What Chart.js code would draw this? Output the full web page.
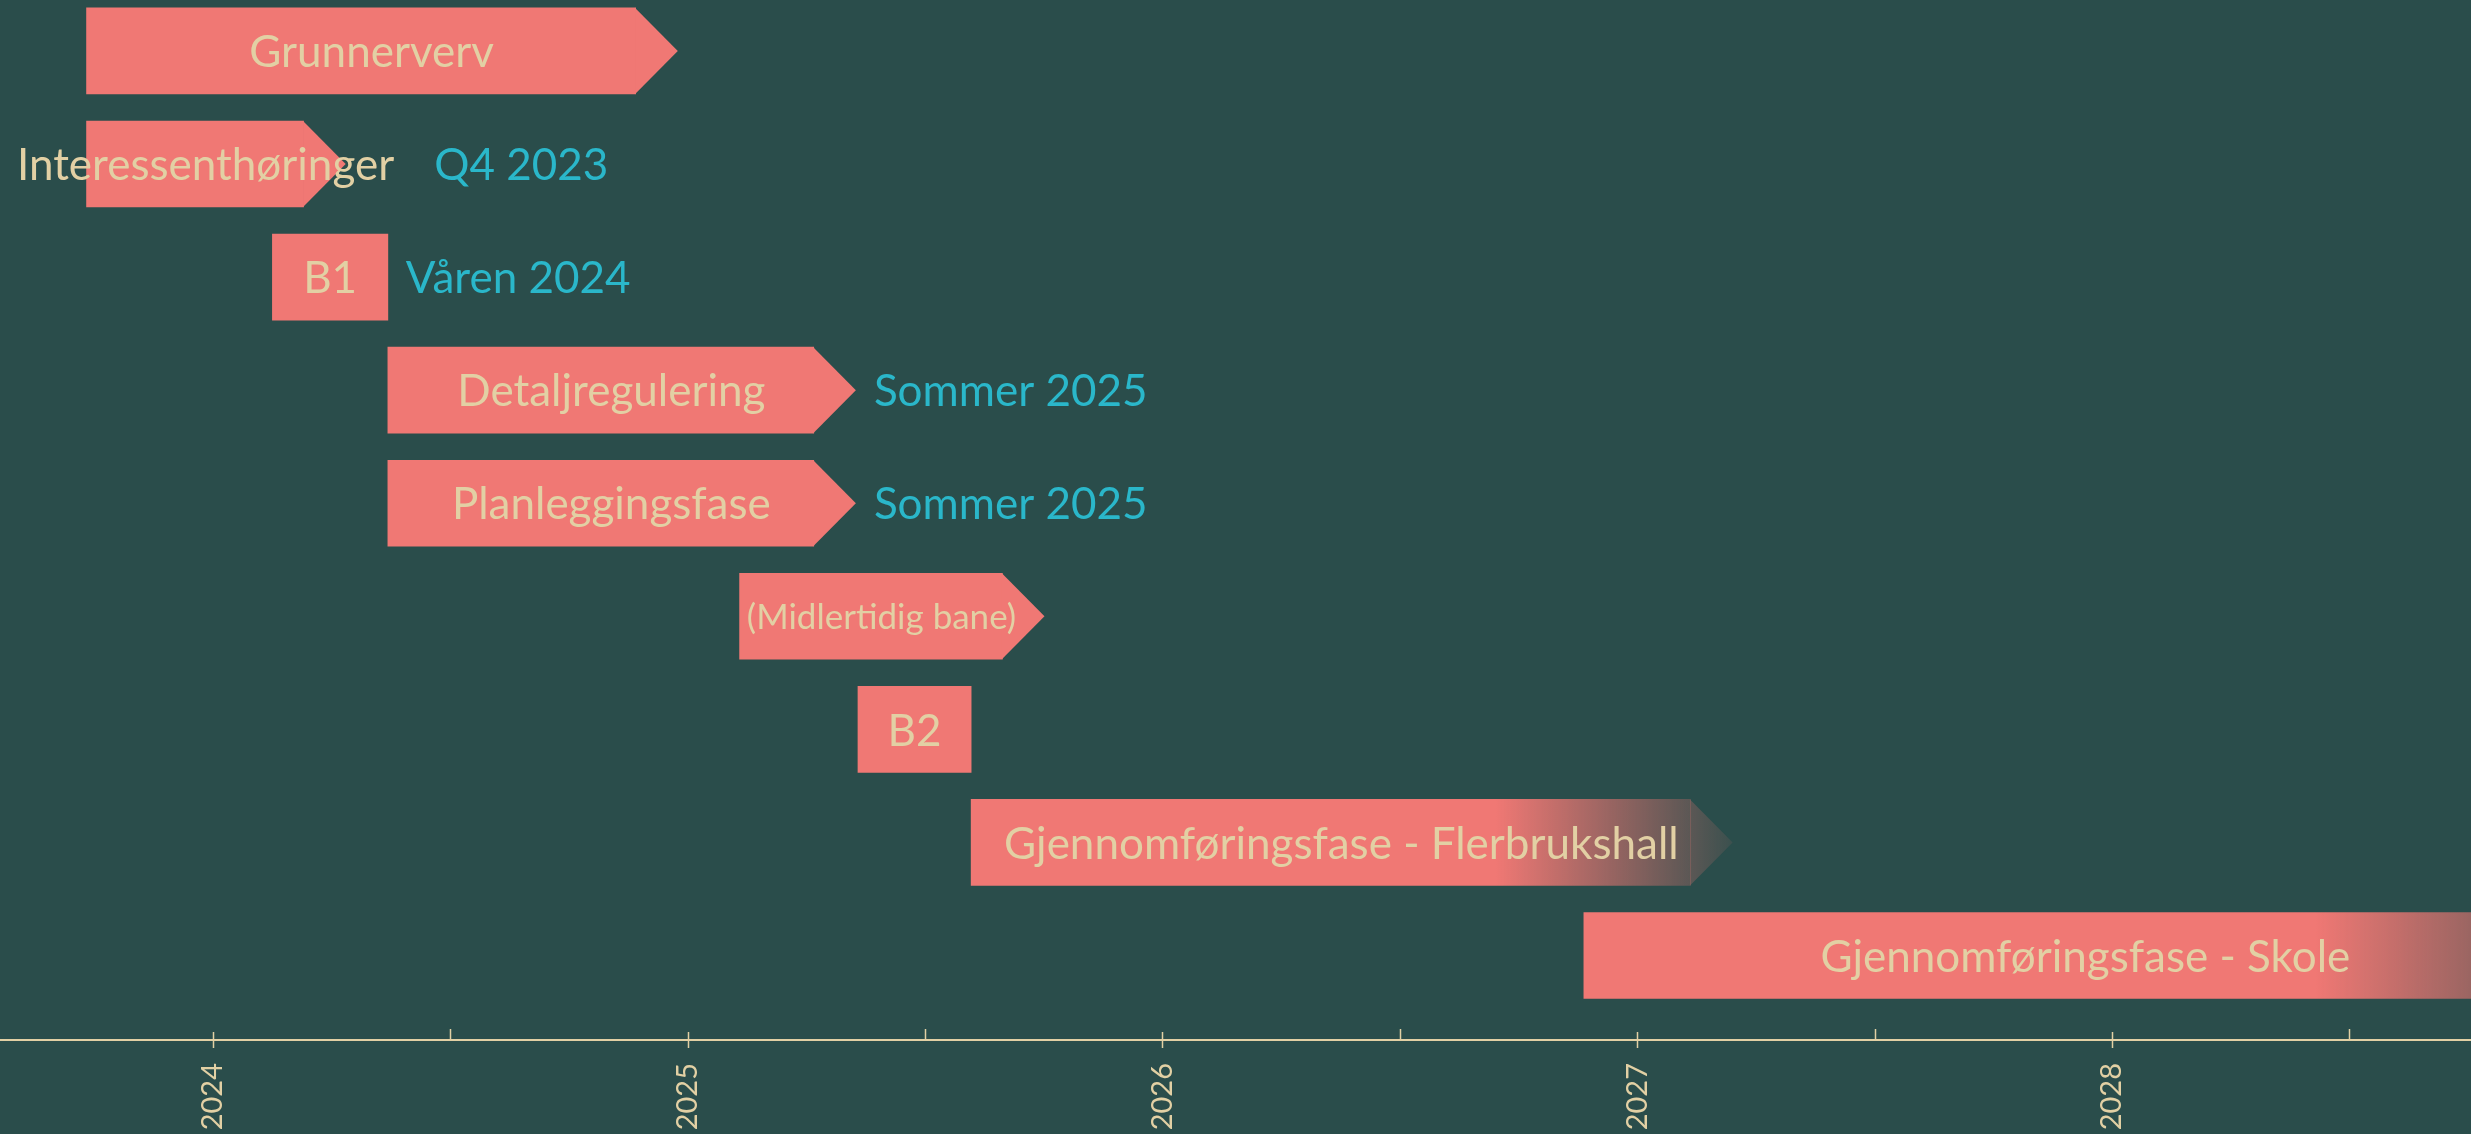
<!DOCTYPE html>
<html>
<head>
<meta charset="utf-8">
<script src="https://cdn.jsdelivr.net/npm/chart.js@4"></script>
<style>
  html, body { margin: 0; padding: 0; background: #2a4d4b; }
  #wrap { width: 2471px; height: 1134px; position: relative; }
</style>
</head>
<body>
<div id="wrap"><canvas id="gantt"></canvas></div>
<script>
// rows, top to bottom
var phases = ['Grunnerverv', 'Interessenthøringer', 'B1', 'Detaljregulering', 'Planleggingsfase',
  '(Midlertidig bane)', 'B2', 'Gjennomføringsfase - Flerbrukshall', 'Gjennomføringsfase - Skole'];
var startDates = ['2023-09-26', '2023-09-26', '2024-02-16', '2024-05-15', '2024-05-15',
  '2025-02-10', '2025-05-12', '2025-08-07', '2026-11-21'];
var endDates = ['2024-11-22', '2024-03-11', '2024-05-15', '2025-04-08', '2025-04-08',
  '2025-08-31', '2025-08-07', '2027-02-11', '2029-01-01'];
var notes = ['', 'Q4 2023', 'Våren 2024', 'Sommer 2025', 'Sommer 2025', '', '', '', ''];
var yearTicks = [2024, 2025, 2026, 2027, 2028];

// styling
var coral = '#f07874';
var beige = '#e2d0a4';
var teal = '#2ab7ca';
var arrowRows = [0, 1, 3, 4, 5, 7];
var fadeRows = [7, 8];
var smallRows = [5];

function toYear(s) {
  var d = new Date(s + 'T00:00:00Z');
  var y = d.getUTCFullYear();
  var a = Date.UTC(y, 0, 1), b = Date.UTC(y + 1, 0, 1);
  return y + (d.getTime() - a) / (b - a);
}

var barData = phases.map(function (p, i) {
  return { x: [toYear(startDates[i]), toYear(endDates[i])], y: i };
});

var ganttDecor = {
  id: 'ganttDecor',
  afterDatasetsDraw: function (chart) {
    var ctx = chart.ctx;
    var meta = chart.getDatasetMeta(0);
    ctx.save();
    meta.data.forEach(function (bar, i) {
      var p = bar.getProps(['x', 'y', 'base', 'height'], true);
      var top = p.y - p.height / 2, bottom = p.y + p.height / 2;
      var tip = p.height * 0.49;
      var hasTip = arrowRows.indexOf(i) >= 0;
      if (hasTip) {
        ctx.fillStyle = bar.options.backgroundColor;
        ctx.beginPath();
        ctx.moveTo(p.x - 0.5, top);
        ctx.lineTo(p.x + tip, p.y);
        ctx.lineTo(p.x - 0.5, bottom);
        ctx.closePath();
        ctx.fill();
      }
      var size = smallRows.indexOf(i) >= 0 ? 35 : 44;
      ctx.font = size + 'px Lato';
      ctx.textBaseline = 'alphabetic';
      ctx.textAlign = 'center';
      ctx.fillStyle = beige;
      var cx = hasTip ? (p.base + p.x + tip / 2) / 2 : (p.base + p.x) / 2;
      ctx.fillText(phases[i], cx, p.y + 0.37 * size);
      if (notes[i]) {
        var textEnd = cx + ctx.measureText(phases[i]).width / 2;
        var shapeEnd = p.x + (hasTip ? tip : 0);
        var nx = Math.max(shapeEnd + 18, textEnd + 40);
        ctx.font = '44px Lato';
        ctx.textAlign = 'left';
        ctx.fillStyle = teal;
        ctx.fillText(notes[i], nx, p.y + 0.37 * 44);
      }
    });
    ctx.restore();
  },
  afterDraw: function (chart) {
    var xs = chart.scales.x;
    var ctx = chart.ctx;
    ctx.save();
    ctx.strokeStyle = beige;
    ctx.lineWidth = 1.5;
    xs.ticks.forEach(function (t, i) {
      var px = Math.round(xs.getPixelForTick(i)) + 0.5;
      ctx.beginPath();
      if (yearTicks.indexOf(t.value) >= 0) {
        ctx.moveTo(px, xs.top - 8);
        ctx.lineTo(px, xs.top + 8);
      } else {
        ctx.moveTo(px, xs.top - 11);
        ctx.lineTo(px, xs.top);
      }
      ctx.stroke();
    });
    ctx.restore();
  }
};

new Chart(document.getElementById('gantt'), {
  type: 'bar',
  data: {
    datasets: [{
      data: barData,
      barThickness: 86,
      borderWidth: 0,
      borderSkipped: false,
      backgroundColor: function (c) {
        var i = c.dataIndex;
        if (i === undefined || fadeRows.indexOf(i) < 0) return coral;
        var xs = c.chart.scales.x;
        if (!xs) return coral;
        var a = xs.getPixelForValue(toYear(startDates[i]));
        var b = xs.getPixelForValue(toYear(endDates[i]));
        var L = b - a;
        var g = c.chart.ctx.createLinearGradient(a + 0.73 * L, 0, b + 0.09 * L, 0);
        g.addColorStop(0, coral);
        g.addColorStop(1, 'rgba(240,120,116,0)');
        return g;
      }
    }]
  },
  options: {
    indexAxis: 'y',
    responsive: true,
    maintainAspectRatio: false,
    animation: false,
    layout: { padding: 0 },
    plugins: {
      legend: { display: false },
      tooltip: { enabled: false }
    },
    scales: {
      x: {
        type: 'linear',
        position: 'bottom',
        min: 2023.552,
        max: 2028.756,
        grid: { display: false, drawTicks: false },
        border: { display: true, color: beige, width: 2 },
        afterFit: function (scale) { scale.height = 94; },
        ticks: {
          stepSize: 0.5,
          includeBounds: false,
          autoSkip: false,
          minRotation: 90,
          maxRotation: 90,
          padding: 23,
          color: beige,
          font: { family: 'Lato', size: 29 },
          callback: function (v) { return yearTicks.indexOf(v) >= 0 ? String(v) : ''; }
        }
      },
      y: {
        type: 'linear',
        display: false,
        offset: false,
        reverse: true,
        min: -0.45,
        max: 8.747
      }
    }
  },
  plugins: [ganttDecor]
});
</script>
</body>
</html>
